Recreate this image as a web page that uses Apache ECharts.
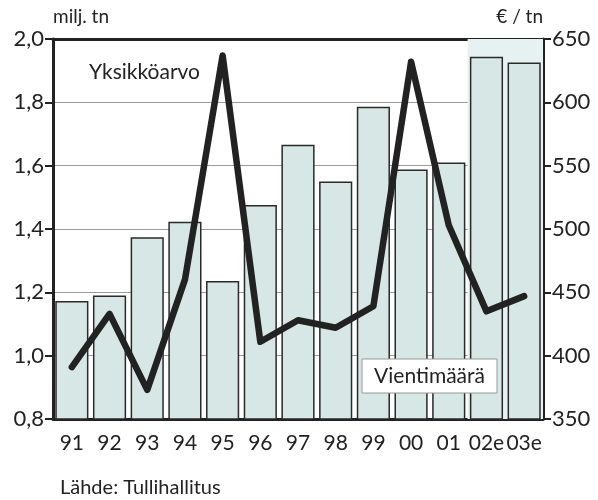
<!DOCTYPE html>
<html>
<head>
<meta charset="utf-8">
<script src="https://cdn.jsdelivr.net/npm/echarts@6/dist/echarts.min.js"></script>
<style>
  html, body { margin: 0; padding: 0; background: #fff; }
  #chart { width: 598px; height: 500px; }
</style>
</head>
<body>
<div id="chart"></div>
<script>
// vuodet
const years = ['91', '92', '93', '94', '95', '96', '97', '98', '99', '00', '01', '02e', '03e']
// vientimäärä, milj. tn (vasen akseli)
const volume = [1.173, 1.19, 1.374, 1.423, 1.236, 1.476, 1.666, 1.55, 1.786, 1.588, 1.61, 1.944, 1.926]
// yksikköarvo, €/tn (oikea akseli)
const unitValue = [391, 433, 373, 460, 637, 411, 428, 422, 439, 632, 503, 435, 447]
// ennustealue (kategoriaindeksit)
const forecastRange = [11, 13]

const font = 'Lato, "DejaVu Sans", sans-serif'
const ink = '#222'

const myChart = echarts.init(document.getElementById('chart'), null, { renderer: 'canvas' })

const option = {
  animation: false,
  textStyle: { fontFamily: font, color: ink },
  grid: { left: 53, right: 55, top: 39, bottom: 81 },
  xAxis: [
    {
      type: 'category',
      data: years,
      boundaryGap: true,
      axisLine: { lineStyle: { color: ink, width: 3 } },
      axisTick: { length: 8, lineStyle: { color: ink, width: 3 } },
      axisLabel: { fontSize: 21, color: ink, margin: 14, fontFamily: font, interval: 0, hideOverlap: false }
    },
    {
      // apuakseli ennustealueen varjostukseen ja yläreunan viivaan
      type: 'value',
      position: 'top',
      min: 0,
      max: 13,
      axisLine: { show: true, lineStyle: { color: ink, width: 3 } },
      axisTick: { show: false },
      axisLabel: { show: false },
      splitLine: { show: false }
    }
  ],
  yAxis: [
    {
      type: 'value',
      min: 0.8,
      max: 2.0,
      interval: 0.2,
      name: 'milj. tn',
      nameLocation: 'end',
      nameGap: 13,
      nameTextStyle: { fontSize: 19, color: ink, align: 'left', fontFamily: font },
      axisLine: { show: true, lineStyle: { color: ink, width: 3 } },
      axisTick: { show: true, length: 8, lineStyle: { color: ink, width: 2 } },
      axisLabel: {
        fontSize: 22, color: ink, margin: 9, fontFamily: font,
        formatter: v => v.toFixed(1).replace('.', ',')
      },
      splitLine: { show: true, lineStyle: { color: '#9a9a9a', width: 1 } }
    },
    {
      type: 'value',
      min: 350,
      max: 650,
      interval: 50,
      name: '€ / tn',
      nameLocation: 'end',
      nameGap: 13,
      nameTextStyle: { fontSize: 19, color: ink, align: 'right', fontFamily: font },
      axisLine: { show: true, lineStyle: { color: ink, width: 3 } },
      axisTick: { show: true, length: 8, lineStyle: { color: ink, width: 2 } },
      axisLabel: { fontSize: 22, color: ink, margin: 9, fontFamily: font },
      splitLine: { show: false }
    }
  ],
  series: [
    {
      name: 'ennuste',
      type: 'line',
      xAxisIndex: 1,
      yAxisIndex: 0,
      data: [],
      silent: true,
      markArea: {
        silent: true,
        itemStyle: { color: '#e6f2f2' },
        data: [[{ xAxis: forecastRange[0] }, { xAxis: forecastRange[1] }]]
      }
    },
    {
      name: 'Vientimäärä',
      type: 'bar',
      xAxisIndex: 0,
      yAxisIndex: 0,
      data: volume,
      barCategoryGap: '12%',
      itemStyle: { color: '#d6e7e5', borderColor: '#2a2a2a', borderWidth: 1.5 },
      z: 3
    },
    {
      name: 'Yksikköarvo',
      type: 'line',
      xAxisIndex: 0,
      yAxisIndex: 1,
      data: unitValue,
      showSymbol: false,
      symbol: 'none',
      lineStyle: { color: ink, width: 6.5, join: 'round', cap: 'round' },
      z: 5
    }
  ],
  graphic: {
    elements: [
      {
        type: 'text',
        left: 89,
        top: 62,
        style: { text: 'Yksikköarvo', fontSize: 21, fill: ink, fontFamily: font }
      },
      {
        type: 'rect',
        z: 100,
        shape: { x: 362, y: 359, width: 135, height: 34 },
        style: { fill: '#fff', stroke: '#999', lineWidth: 1 }
      },
      {
        type: 'text',
        z: 101,
        x: 429.5,
        y: 376,
        style: { text: 'Vientimäärä', fontSize: 21, fill: ink, fontFamily: font, align: 'center', verticalAlign: 'middle' }
      },
      {
        type: 'text',
        left: 60,
        top: 478,
        style: { text: 'Lähde: Tullihallitus', fontSize: 20, fill: ink, fontFamily: font }
      }
    ]
  }
}

myChart.setOption(option)
</script>
</body>
</html>
